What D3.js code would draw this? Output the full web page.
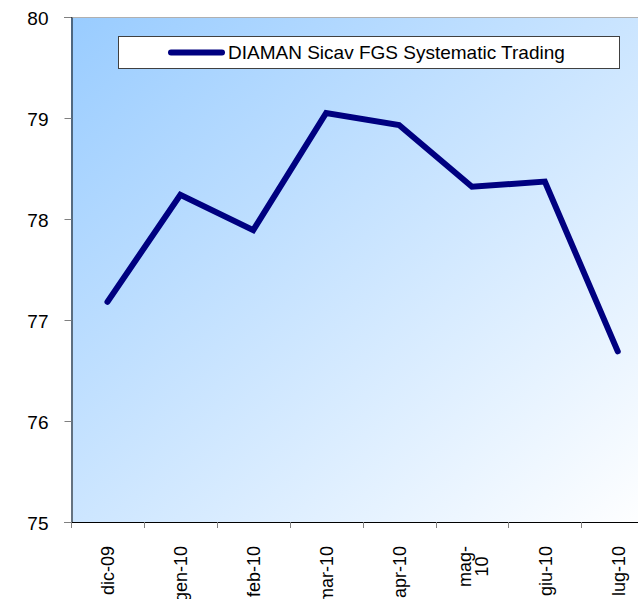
<!DOCTYPE html>
<html>
<head>
<meta charset="utf-8">
<script src="https://cdn.jsdelivr.net/npm/d3@7"></script>
<style>
  body { margin: 0; background: #ffffff; }
  text { font-family: "Liberation Sans", Arial, sans-serif; fill: #000; }
</style>
</head>
<body>
<script>
// data
var months = ["dic-09", "gen-10", "feb-10", "mar-10", "apr-10", "mag-10", "giu-10", "lug-10"];
var monthLabels = [["dic-09"], ["gen-10"], ["feb-10"], ["mar-10"], ["apr-10"], ["mag-", "10"], ["giu-10"], ["lug-10"]];
var values = [77.18, 78.24, 77.89, 79.05, 78.93, 78.32, 78.37, 76.69];
var yTicks = [75, 76, 77, 78, 79, 80];
var seriesName = "DIAMAN Sicav FGS Systematic Trading";

var width = 638,
    height = 599;
var plotLeft = 71, plotTop = 17, plotBottom = 522;
var step = 72.9;
var plotRight = plotLeft + step * months.length;

var svg = d3.select("body")
  .append("svg")
    .attr("width", width)
    .attr("height", height);

var defs = svg.append("defs");
var grad = defs.append("linearGradient")
  .attr("id", "bg")
  .attr("x1", 0).attr("y1", 0)
  .attr("x2", 1).attr("y2", 1);
grad.append("stop").attr("offset", "0%").attr("stop-color", "#99ccff");
grad.append("stop").attr("offset", "100%").attr("stop-color", "#ffffff");

var x = d3.scaleBand().domain(months).range([plotLeft, plotRight]).padding(0);
var y = d3.scaleLinear().domain([75, 80]).range([plotBottom, plotTop]);

// plot area
svg.append("rect")
  .attr("x", plotLeft)
  .attr("y", plotTop)
  .attr("width", plotRight - plotLeft)
  .attr("height", plotBottom - plotTop)
  .attr("fill", "url(#bg)");

svg.append("line")
  .attr("x1", plotLeft).attr("x2", plotRight)
  .attr("y1", plotTop + 0.5).attr("y2", plotTop + 0.5)
  .attr("stroke", "#b0b0b0");

// y axis
var yAxis = svg.append("g")
  .attr("transform", "translate(" + (plotLeft + 0.5) + ",0)")
  .call(d3.axisLeft(y).tickValues(yTicks).tickSize(7).tickPadding(16).tickFormat(d3.format("d")));
yAxis.select(".domain").attr("stroke", "#000");
yAxis.selectAll(".tick line").attr("stroke", "#808080");
yAxis.selectAll(".tick text")
  .style("font-family", "'Liberation Sans', Arial, sans-serif")
  .style("font-size", "19px")
  .attr("dy", "0.4em");

// x axis
svg.append("line")
  .attr("x1", plotLeft).attr("x2", plotRight)
  .attr("y1", plotBottom + 0.5).attr("y2", plotBottom + 0.5)
  .attr("stroke", "#000");

svg.selectAll(".xtick")
  .data(months.concat(["end"]))
  .enter()
  .append("line")
  .attr("class", "xtick")
  .attr("x1", function(d) { return d === "end" ? plotRight : Math.round(x(d)) + 0.5; })
  .attr("x2", function(d) { return d === "end" ? plotRight : Math.round(x(d)) + 0.5; })
  .attr("y1", plotBottom)
  .attr("y2", plotBottom + 6)
  .attr("stroke", "#808080");

var labelFont = 18;
var lab = svg.selectAll(".xlab")
  .data(months)
  .enter()
  .append("text")
  .attr("class", "xlab")
  .style("font-size", labelFont + "px");

lab.each(function(d, i) {
  var lines = monthLabels[i];
  var t = d3.select(this);
  var cx = x(d) + x.bandwidth() / 2;
  if (lines.length === 1) {
    t.attr("transform", "translate(" + (cx + 7) + "," + 546 + ") rotate(-90)")
      .attr("text-anchor", "end")
      .text(lines[0]);
  } else {
    t.attr("text-anchor", "middle");
    var tmp = t.append("tspan").text(lines[0]);
    var w = tmp.node().getComputedTextLength();
    tmp.remove();
    t.attr("transform", "translate(" + (cx - 1) + "," + (546 + w / 2) + ") rotate(-90)");
    lines.forEach(function(s, k) {
      t.append("tspan")
        .attr("x", 0)
        .attr("dy", k === 0 ? 0 : "0.95em")
        .text(s);
    });
  }
});

// series line
var line = d3.line()
  .x(function(d, i) { return x(months[i]) + x.bandwidth() / 2; })
  .y(function(d) { return y(d); });

svg.append("path")
  .datum(values)
  .attr("d", line)
  .attr("fill", "none")
  .attr("stroke", "#000080")
  .attr("stroke-width", 6)
  .attr("stroke-linecap", "round")
  .attr("stroke-linejoin", "miter");

// legend
var legend = svg.append("g");
legend.append("rect")
  .attr("x", 118.5)
  .attr("y", 36.5)
  .attr("width", 501)
  .attr("height", 32)
  .attr("fill", "#fff")
  .attr("stroke", "#404040");
legend.append("line")
  .attr("x1", 171).attr("x2", 222)
  .attr("y1", 52.5).attr("y2", 52.5)
  .attr("stroke", "#000080")
  .attr("stroke-width", 6)
  .attr("stroke-linecap", "round");
legend.append("text")
  .attr("x", 228)
  .attr("y", 59)
  .style("font-size", "19px")
  .text(seriesName);
</script>
</body>
</html>
